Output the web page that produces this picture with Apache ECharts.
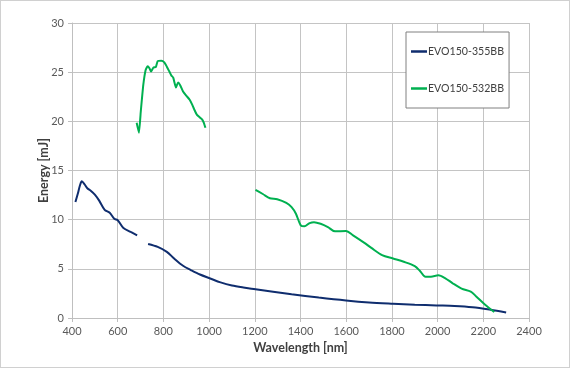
<!DOCTYPE html>
<html><head><meta charset="utf-8">
<script src="https://cdn.jsdelivr.net/npm/echarts@6/dist/echarts.min.js"></script>
<style>html,body{margin:0;padding:0;background:#fff}
#c{width:570px;height:368px;box-sizing:border-box;border:1px solid #d0d0d0}</style>
</head><body><div id="c"></div>
<script>
const seriesNames = ['EVO150-355BB', 'EVO150-532BB'];
const xTicks = [400, 600, 800, 1000, 1200, 1400, 1600, 1800, 2000, 2200, 2400];
const yTicks = [0, 5, 10, 15, 20, 25, 30];
// EVO150-355BB, two segments
const blueA = [[415,11.8],[425,12.6],[435,13.5],[443,13.9],[455,13.6],[467,13.2],[482,12.95],[500,12.55],[519,11.94],[543,11.0],[565,10.7],[585,10.1],[601,9.92],[625,9.15],[657,8.75],[685,8.41]];
const blueB = [[733,7.53],[775,7.23],[815,6.73],[847,6.05],[886,5.31],[920,4.88],[960,4.42],[1005,4.02],[1050,3.62],[1100,3.3],[1150,3.1],[1203,2.93],[1280,2.68],[1361,2.42],[1480,2.08],[1599,1.78],[1700,1.58],[1805,1.45],[1900,1.35],[1995,1.28],[2074,1.23],[2153,1.1],[2232,0.84],[2300,0.57]];
// EVO150-532BB, two segments
const greenA = [[683,19.85],[693,18.84],[701,21.0],[712,23.7],[722,25.2],[731,25.6],[739,25.4],[746,25.06],[756,25.46],[767,25.53],[775,26.13],[791,26.17],[804,26.0],[815,25.56],[826,25.06],[835,24.65],[843,24.45],[855,23.44],[864,23.95],[874,23.65],[886,23.04],[899,22.64],[915,22.2],[926,21.7],[934,21.26],[946,20.69],[962,20.35],[970,20.18],[977,19.85],[984,19.34]];
const greenB = [[1203,13.02],[1235,12.61],[1266,12.18],[1298,12.08],[1338,11.7],[1361,11.27],[1380,10.6],[1401,9.42],[1417,9.32],[1440,9.65],[1459,9.75],[1488,9.59],[1520,9.25],[1551,8.81],[1599,8.85],[1630,8.41],[1678,7.67],[1710,7.13],[1757,6.39],[1805,6.05],[1852,5.72],[1900,5.28],[1923,4.78],[1947,4.2],[1971,4.2],[2003,4.34],[2034,4.04],[2066,3.53],[2105,2.99],[2145,2.69],[2169,2.19],[2208,1.35],[2248,0.61]];

const font = 'Lato, "Noto Sans", sans-serif';
const chart = echarts.init(document.getElementById('c'));
const mk = (name, color, segs) => segs.map((d, i) => ({
  name, type: 'line', data: d, symbol: 'none', smooth: i === 0 && name === seriesNames[1] ? 0.15 : 0.3,
  lineStyle: { color, width: 2 }, itemStyle: { color }, animation: false
}));
const tick = { show: true, length: 4, lineStyle: { color: '#bfbfbf' } };
chart.setOption({
  animation: false,
  grid: { left: 71, right: 40, top: 22, bottom: 49 },
  legend: {
    data: seriesNames, orient: 'vertical', left: 405, top: 31,
    icon: 'rect', itemWidth: 16, itemHeight: 2.5, itemGap: 26,
    borderColor: '#808080', borderWidth: 1, padding: [14, 5, 14, 5],
    textStyle: { fontFamily: font, fontSize: 10.6, color: '#404040', padding: [0, 0, 0, -4] },
    backgroundColor: '#fff'
  },
  xAxis: {
    type: 'value', min: 400, max: 2400, interval: 200,
    name: 'Wavelength [nm]', nameLocation: 'middle', nameGap: 23, nameMoveOverlap: false,
    nameTextStyle: { fontFamily: font, fontSize: 12.5, fontWeight: 'bold', color: '#404040' },
    axisLine: { lineStyle: { color: '#bfbfbf' } }, axisTick: tick,
    axisLabel: { fontFamily: font, fontSize: 11, color: '#595959', margin: 8, formatter: v => String(v) },
    splitLine: { lineStyle: { color: '#c4c4c4' } }
  },
  yAxis: {
    type: 'value', min: 0, max: 30, interval: 5,
    name: 'Energy [mJ]', nameLocation: 'middle', nameGap: 22, nameMoveOverlap: false,
    nameTextStyle: { fontFamily: font, fontSize: 12.5, fontWeight: 'bold', color: '#404040' },
    axisLine: { show: true, lineStyle: { color: '#bfbfbf' } }, axisTick: tick,
    axisLabel: { fontFamily: font, fontSize: 11, color: '#595959', margin: 8 },
    splitLine: { lineStyle: { color: '#c4c4c4' } }
  },
  series: [...mk(seriesNames[0], '#0f2d6e', [blueA, blueB]), ...mk(seriesNames[1], '#00b050', [greenA, greenB])]
});
</script></body></html>
